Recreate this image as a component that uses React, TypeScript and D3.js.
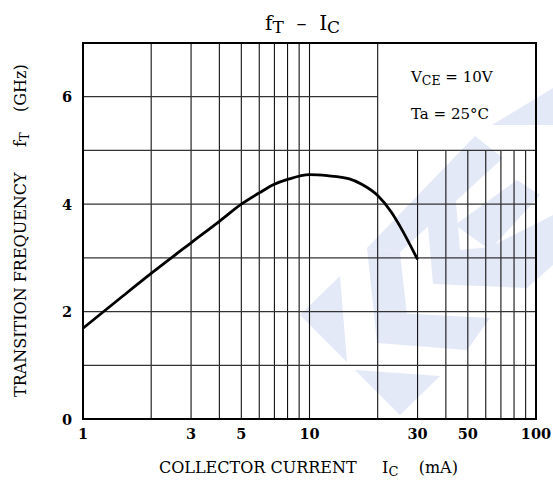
import React, { useEffect, useRef } from "react";
import * as d3 from "d3";

// collector current (mA) and transition frequency (GHz)
const icValues = [1, 1.5, 2, 3, 4, 5, 6, 7, 8, 10, 12, 15, 17, 20, 23, 25, 30];
const ftValues = [1.69, 2.29, 2.71, 3.28, 3.68, 4.0, 4.21, 4.37, 4.46, 4.55, 4.53, 4.47, 4.37, 4.16, 3.85, 3.6, 2.97];

const xTickValues = [1, 3, 5, 10, 30, 50, 100];
const yTickValues = [0, 2, 4, 6];
const yGridValues = [1, 2, 3, 4, 5, 6];
const xGridValues = [2, 3, 4, 5, 6, 7, 8, 9, 10, 20, 30, 40, 50, 60, 70, 80, 90];

// background watermark polygons
const watermark = [
  [[492, 125], [553, 88], [553, 125]],
  [[367, 248], [475, 136], [503, 158], [400, 252]],
  [[367, 248], [400, 252], [410, 343], [377, 343]],
  [[377, 312], [490, 318], [467, 350], [377, 343]],
  [[425, 192], [455, 190], [460, 250], [490, 247], [553, 215], [553, 265], [527, 288], [433, 284]],
  [[455, 225], [517, 180], [540, 195], [490, 250]],
  [[300, 315], [340, 276], [347, 362]],
  [[355, 370], [440, 376], [400, 415]],
];

const W = 553;
const H = 481;
const margin = { top: 43, right: 17, bottom: 62, left: 83 };
const FONT = "'DejaVu Serif', serif";

export default function App() {
  const ref = useRef<SVGSVGElement>(null);

  useEffect(() => {
    const svg = d3.select(ref.current);
    svg.selectAll("*").remove();

    const x = d3.scaleLog().domain([1, 100]).range([margin.left, W - margin.right]);
    const y = d3.scaleLinear().domain([0, 7]).range([H - margin.bottom, margin.top]);

    svg.append("rect").attr("width", W).attr("height", H).attr("fill", "#fff");

    svg.append("g")
      .selectAll("polygon")
      .data(watermark)
      .enter()
      .append("polygon")
      .attr("points", d => d.map(p => p.join(",")).join(" "))
      .attr("fill", "#e3e9f6");

    const grid = svg.append("g");
    // vertical grid: above 20 mA lines stop under the condition box
    grid.selectAll(".vg")
      .data(xGridValues)
      .enter()
      .append("line")
      .attr("x1", d => x(d))
      .attr("x2", d => x(d))
      .attr("y1", d => (d > 20 ? y(5) : y(7)))
      .attr("y2", y(0))
      .attr("stroke", "#111")
      .attr("stroke-width", 1.1);

    grid.selectAll(".hg")
      .data(yGridValues)
      .enter()
      .append("line")
      .attr("x1", x(1))
      .attr("x2", d => (d > 5 ? x(20) : x(100)))
      .attr("y1", d => y(d))
      .attr("y2", d => y(d))
      .attr("stroke", "#333")
      .attr("stroke-width", 1.3);

    svg.append("rect")
      .attr("x", x(1))
      .attr("y", y(7))
      .attr("width", x(100) - x(1))
      .attr("height", y(0) - y(7))
      .attr("fill", "none")
      .attr("stroke", "#000")
      .attr("stroke-width", 2);

    const line = d3.line<number>()
      .x((d, i) => x(icValues[i]))
      .y(d => y(d))
      .curve(d3.curveMonotoneX);

    svg.append("path")
      .attr("d", line(ftValues))
      .attr("fill", "none")
      .attr("stroke", "#000")
      .attr("stroke-width", 2.8);

    svg.selectAll(".xt")
      .data(xTickValues)
      .enter()
      .append("text")
      .attr("x", d => x(d))
      .attr("y", y(0) + 19.5)
      .attr("text-anchor", "middle")
      .attr("font-family", FONT)
      .attr("font-weight", "bold")
      .attr("font-size", 14.5)
      .text(d => d);

    svg.selectAll(".yt")
      .data(yTickValues)
      .enter()
      .append("text")
      .attr("x", x(1) - 11)
      .attr("y", d => y(d) + 5.5)
      .attr("text-anchor", "end")
      .attr("font-family", FONT)
      .attr("font-weight", "bold")
      .attr("font-size", 14.5)
      .text(d => d);

    // title
    const title = svg.append("text")
      .attr("x", 265)
      .attr("y", 30)
      .attr("font-family", FONT)
      .attr("font-size", 20)
      .attr("xml:space", "preserve");
    title.append("tspan").text("f");
    title.append("tspan").attr("font-size", 17).attr("dy", 3).text("T");
    title.append("tspan").attr("dy", -3).text("  –  I");
    title.append("tspan").attr("font-size", 17).attr("dy", 3).text("C");

    // conditions
    const cond1 = svg.append("text")
      .attr("x", 411)
      .attr("y", 82)
      .attr("font-family", FONT)
      .attr("font-size", 15);
    cond1.append("tspan").text("V");
    cond1.append("tspan").attr("font-size", 12.5).attr("dy", 3).text("CE");
    cond1.append("tspan").attr("dy", -3).text(" = 10V");

    svg.append("text")
      .attr("x", 411)
      .attr("y", 119)
      .attr("font-family", FONT)
      .attr("font-size", 15)
      .text("Ta = 25°C");

    // x axis title
    const xt = svg.append("text")
      .attr("x", 159)
      .attr("y", 473)
      .attr("font-family", FONT)
      .attr("font-size", 16)
      .attr("xml:space", "preserve");
    xt.append("tspan").text("COLLECTOR CURRENT     I");
    xt.append("tspan").attr("font-size", 13).attr("dy", 3).text("C");
    xt.append("tspan").attr("dy", -3).text("    (mA)");

    // y axis title
    const yt = svg.append("text")
      .attr("transform", "translate(26,397) rotate(-90)")
      .attr("font-family", FONT)
      .attr("font-size", 16)
      .attr("xml:space", "preserve");
    yt.append("tspan").text("TRANSITION FREQUENCY     f");
    yt.append("tspan").attr("font-size", 13).attr("dy", 3).text("T");
    yt.append("tspan").attr("dy", -3).text("    (GHz)");
  }, []);

  return (
    <svg
      ref={ref}
      width={W}
      height={H}
      style={{ position: "absolute", left: 0, top: 0 }}
    />
  );
}
